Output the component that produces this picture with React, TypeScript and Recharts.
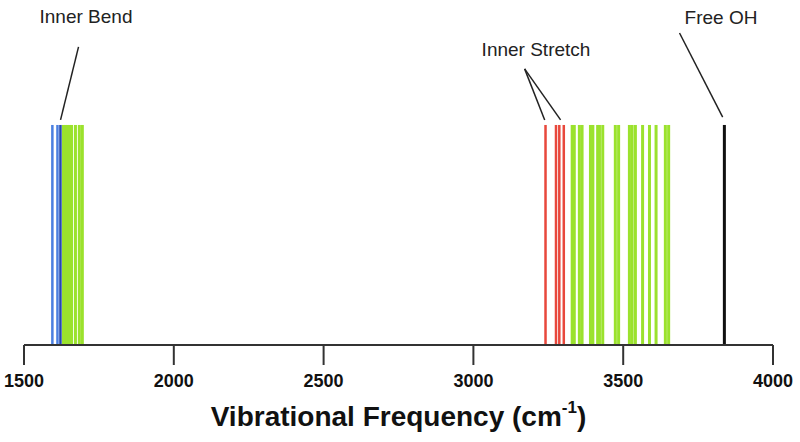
import { ComposedChart, XAxis, YAxis, Bar, ReferenceLine } from 'recharts';

// Vibrational frequencies (cm^-1)
const bendBlue = [1595, 1612];
const bendDarkBlue = [1622];
const bendGreen = [1632, 1639, 1645, 1652, 1659, 1672, 1685, 1695];
const stretchRed = [3241, 3276, 3287, 3302];
const stretchGreen = [
  3330, 3337, 3354, 3363, 3391, 3399, 3415, 3421, 3432, 3474, 3485, 3521, 3530,
  3541, 3565, 3588, 3610, 3641, 3652,
];
const freeOH = [3838];
const xTicks = [1500, 2000, 2500, 3000, 3500, 4000];

// leader lines for the annotations: [from, to] in data coords
const leaders = [
  [{ x: 1682, y: 1.355 }, { x: 1622, y: 1.023 }],
  [{ x: 3171, y: 1.255 }, { x: 3238, y: 1.023 }],
  [{ x: 3171, y: 1.255 }, { x: 3291, y: 1.023 }],
  [{ x: 3688, y: 1.418 }, { x: 3832, y: 1.036 }],
];

const FONT = '"Liberation Sans", Arial, sans-serif';

const groups: [number[], string, number][] = [
  [bendGreen, '#9be22d', 3],
  [bendBlue, '#4a7fe0', 2.5],
  [bendDarkBlue, '#2448b0', 2.5],
  [stretchRed, '#e8483c', 2.5],
  [stretchGreen, '#9be22d', 3],
  [freeOH, '#111111', 3],
];

const sticks = groups
  .flatMap(([vals, color, w]) => vals.map((f) => ({ f, v: 1, color, w })));

function AxisTitle({ viewBox }: { viewBox?: { x: number; y: number; width: number } }) {
  if (!viewBox) return null;
  const { x, y, width } = viewBox;
  return (
    <text
      x={x + width / 2}
      y={y + 81}
      textAnchor="middle"
      fontFamily={FONT}
      fontWeight="bold"
      fontSize={28}
      fill="#111"
    >
      Vibrational Frequency (cm
      <tspan dy={-13} fontSize={17}>-1</tspan>
      <tspan dy={13}>)</tspan>
    </text>
  );
}

function Stick(props: any) {
  const { x, y, width, height, payload } = props;
  if (height == null || !payload) return null;
  return (
    <rect
      x={x + width / 2 - payload.w / 2}
      y={y}
      width={payload.w}
      height={height}
      fill={payload.color}
    />
  );
}

export default function App() {
  return (
    <div style={{ position: 'absolute', left: 0, top: 0, width: 800, height: 442, background: '#fff' }}>
      <ComposedChart
        width={800}
        height={442}
        data={sticks}
        barGap={0}
        barCategoryGap={0}
        margin={{ top: 0, right: 27, bottom: 0, left: 24 }}
      >
        <XAxis
          type="number"
          dataKey="f"
          domain={[1500, 4000]}
          ticks={xTicks}
          allowDataOverflow
          height={97}
          tickSize={20}
          tickMargin={9}
          axisLine={{ stroke: '#333', strokeWidth: 2 }}
          tickLine={{ stroke: '#333', strokeWidth: 2 }}
          tick={{ fontFamily: FONT, fontWeight: 'bold', fontSize: 18, fill: '#111' }}
          label={<AxisTitle />}
        />
        <YAxis type="number" domain={[0, 1.568]} allowDataOverflow hide />

        <Bar dataKey="v" barSize={2} shape={<Stick />} isAnimationActive={false} />

        {leaders.map((seg, i) => (
          <ReferenceLine key={'l' + i} segment={seg} stroke="#222" strokeWidth={1.5} ifOverflow="visible" />
        ))}
      </ComposedChart>
      <svg width={800} height={442} style={{ position: 'absolute', left: 0, top: 0, pointerEvents: 'none' }}>
        <g fontFamily={FONT} fontSize={19} fill="#222" textAnchor="middle">
          <text x={86} y={23}>Inner Bend</text>
          <text x={536} y={56}>Inner Stretch</text>
          <text x={721} y={24}>Free OH</text>
        </g>
      </svg>
    </div>
  );
}
